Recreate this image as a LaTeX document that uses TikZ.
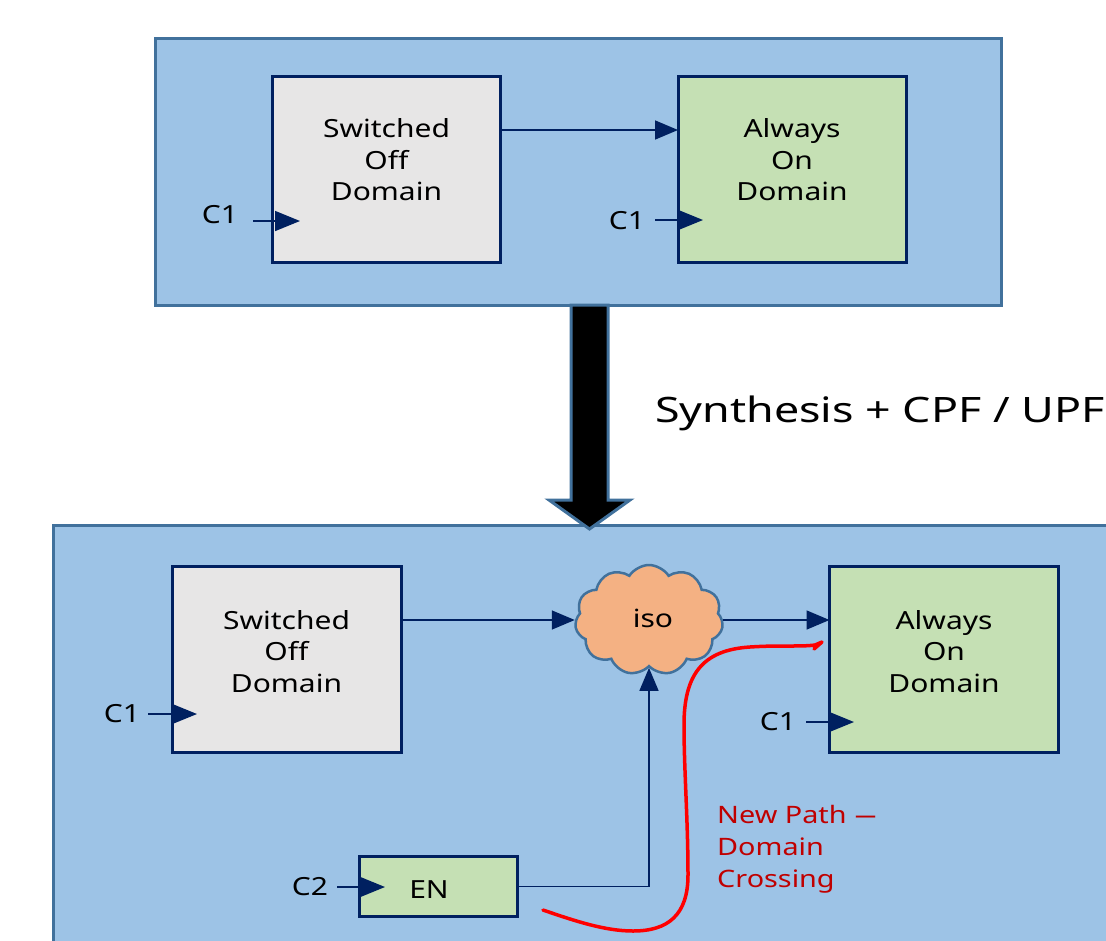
\documentclass[tikz,border=0pt]{standalone}
\usepackage{fontspec}
\setmainfont{Noto Sans}[FakeStretch=1.2]
\newfontfamily\synthfont{Noto Sans}[FakeStretch=1.28]
\usetikzlibrary{shapes.symbols,arrows.meta,calc}

\definecolor{regionfill}{HTML}{9DC3E6}
\definecolor{regionedge}{HTML}{41719C}
\definecolor{navy}{HTML}{002060}
\definecolor{offgrey}{HTML}{E7E6E6}
\definecolor{ongreen}{HTML}{C5E0B4}
\definecolor{isofill}{HTML}{F4B183}
\definecolor{notered}{HTML}{C00000}
\definecolor{pathred}{HTML}{FF0000}

\tikzset{
  region/.style={fill=regionfill, draw=regionedge, line width=3pt},
  block/.style={draw=navy, line width=3pt, inner sep=0pt, outer sep=0pt},
  offblock/.style={block, fill=offgrey, minimum width=228pt, minimum height=186pt},
  onblock/.style={block, fill=ongreen, minimum width=228pt, minimum height=186pt},
  boxtext/.style={align=center, font=\fontsize{25}{31.5}\selectfont, inner sep=0pt},
  lbl/.style={font=\fontsize{25}{31}\selectfont, inner sep=0pt},
  sig/.style={draw=navy, line width=1.6pt, -{Triangle[length=23pt,width=19pt]}},
  clk/.style={draw=navy, line width=1.6pt, -{Triangle[length=25pt,width=20pt]}},
  crossing/.style={draw=pathred, line width=3.5pt, line cap=round, line join=round},
  notetext/.style={align=left, text=notered, font=\fontsize{24}{32}\selectfont, inner sep=0pt},
  bigarrow/.style={fill=black, draw=regionedge, line width=3pt, line join=miter},
}

\begin{document}
\begin{tikzpicture}[x=1pt, y=-1pt]
\useasboundingbox (0,0) rectangle (1106,940);

% ---------- lower region: after synthesis ----------
\begin{scope}
  \clip (0,0) rectangle (1106,940);
  \path[region] (53,525) rectangle (1140,980);
\end{scope}

% ---------- upper region: RTL view ----------
\path[region] (155,38) rectangle (1001,305);

% synthesis step arrow
\path[bigarrow] (571,305) -- (571,500) -- (549,500) -- (589.5,529)
  -- (630,500) -- (608,500) -- (608,305) -- cycle;
\node[anchor=base west, font=\synthfont\fontsize{35}{42}\selectfont, inner sep=0pt]
  (synth) at (655,422) {Synthesis + CPF / UPF};

% upper blocks
\node[offblock] (tSO) at (386.5,169) {};
\node[onblock]  (tAO) at (792,169) {};
\node[boxtext] (tSOtext) at (386.5,160) {Switched\\Off\\Domain};
\node[boxtext] (tAOtext) at (792,160) {Always\\On\\Domain};

\draw[sig] (tSO.east |- 0,130) -- (tAO.west |- 0,130);

% upper clocks
\node[lbl] (tSOc) at (220,215) {C1};
\coordinate (tSOcs) at (253,221);
\coordinate (tSOct) at (300,221);
\draw[clk] (tSOcs) -- (tSOct);
\node[lbl] (tAOc) at (627,221) {C1};
\coordinate (tAOcs) at (655,220);
\coordinate (tAOct) at (703,220);
\draw[clk] (tAOcs) -- (tAOct);

% lower blocks
\node[offblock, minimum width=229pt] (bSO) at (286.5,659.5) {};
\node[onblock, minimum width=229pt]  (bAO) at (944,659.5) {};
\node[boxtext] (bSOtext) at (286.5,651.5) {Switched\\Off\\Domain};
\node[boxtext] (bAOtext) at (944,651.5) {Always\\On\\Domain};

% isolation cell
\node[cloud, cloud puffs=11, cloud puff arc=115, aspect=1.35,
      minimum width=148pt, minimum height=110pt, inner sep=0pt,
      draw=regionedge, line width=2.5pt, fill=isofill] (iso) at (649,620) {};
\node[lbl] (isotext) at (653,618) {iso};

% enable flop
\node[block, fill=ongreen, minimum width=158pt, minimum height=60pt] (en) at (438.5,886.5) {};
\node[lbl] (entext) at (429,890) {EN};

% data and enable connections
\draw[sig] (bSO.east |- 0,620) -- (iso.west);
\draw[sig] (iso.east) -- (bAO.west |- iso.east);
\draw[sig] (en.east) -| (iso.south);

% lower clocks
\node[lbl] (bSOc) at (122,714) {C1};
\coordinate (bSOcs) at (148,714);
\coordinate (bSOct) at (197,714);
\draw[clk] (bSOcs) -- (bSOct);
\node[lbl] (bAOc) at (778,722) {C1};
\coordinate (bAOcs) at (806,722);
\coordinate (bAOct) at (854,722);
\draw[clk] (bAOcs) -- (bAOct);
\node[lbl] (enc) at (310,886.5) {C2};
\coordinate (encs) at (337,887);
\coordinate (enct) at (385,887);
\draw[clk] (encs) -- (enct);

% new domain-crossing path
\draw[crossing] (543,910) .. controls (575,921) and (605,931) .. (633,931)
  .. controls (668,931) and (688,915) .. (688,875)
  .. controls (688,820) and (684,770) .. (684,725)
  .. controls (684,675) and (702,650) .. (750,647)
  .. controls (780,645) and (800,647) .. (815,645)
  -- (822,642) -- (814,649);
\node[notetext, anchor=north west] (note) at (717,805)
  {New Path \scalebox{1.6}[1]{--}\\Domain\\Crossing};
\end{tikzpicture}
\end{document}
